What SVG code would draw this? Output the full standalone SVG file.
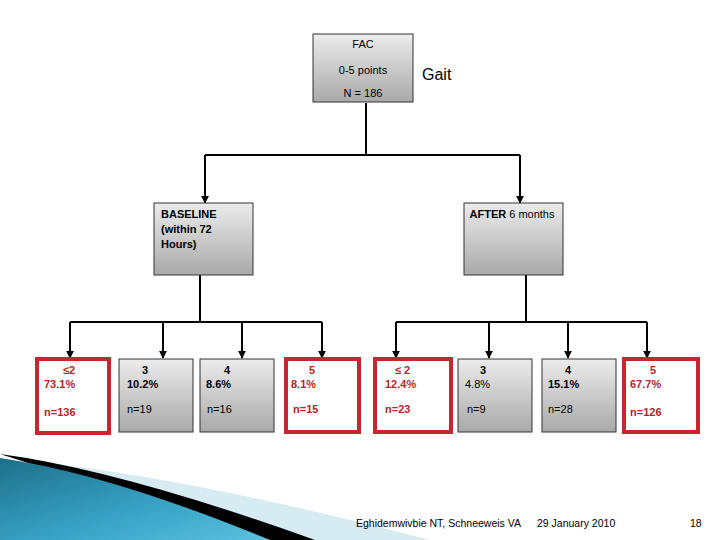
<svg xmlns="http://www.w3.org/2000/svg" width="720" height="540" viewBox="0 0 720 540">
<defs>
<linearGradient id="g" x1="0" y1="0" x2="0" y2="1"><stop offset="0" stop-color="#ececec"/><stop offset="1" stop-color="#a9a9a9"/></linearGradient>
<linearGradient id="t" x1="0" y1="0" x2="1" y2="1"><stop offset="0" stop-color="#1d6f8a"/><stop offset="0.6" stop-color="#3aa5c8"/><stop offset="1" stop-color="#5cc0de"/></linearGradient>
<marker id="a" viewBox="0 0 10 10" refX="9" refY="5" markerWidth="4" markerHeight="4" orient="auto"><path d="M0 0L10 5L0 10z" fill="#000"/></marker>
<style>
.gb{fill:url(#g);stroke:#333;stroke-width:1}
.rb{fill:#fff;stroke:#c8262e;stroke-width:4}
.t{font-family:"Liberation Sans",Arial,sans-serif;font-size:11px;fill:#000}
.r{fill:#b3262b}
.b{font-weight:bold}
.c{fill:none;stroke:#000;stroke-width:2;marker-end:url(#a)}
.l{fill:none;stroke:#000;stroke-width:2}
</style>
</defs>
<rect width="720" height="540" fill="#fff"/>
<g id="swoosh">
<path d="M40 462 Q200 480 430 540 L300 540 Z" fill="#d7ebf2"/>
<path d="M0 454 Q120 470 315 540 L270 540 Z" fill="#000"/>
<path d="M0 458 Q110 474 270 540 L0 540 Z" fill="url(#t)"/>
</g>
<g id="connectors">
<path class="l" d="M366 103V155M205 155H520"/>
<path class="c" d="M205 155V203"/><path class="c" d="M520 155V203"/>
<path class="l" d="M200 275V322M70 322H322"/>
<path class="c" d="M70 322V358"/><path class="c" d="M163 322V358"/><path class="c" d="M242 322V358"/><path class="c" d="M322 322V358"/>
<path class="l" d="M526 275V322M396 322H647"/>
<path class="c" d="M396 322V358"/><path class="c" d="M489 322V358"/><path class="c" d="M568 322V358"/><path class="c" d="M647 322V358"/>
</g>
<g id="fac"><rect class="gb" x="313" y="34" width="100" height="68"/>
<text class="t" x="363" y="48" text-anchor="middle">FAC</text>
<text class="t" x="363" y="74" text-anchor="middle">0-5 points</text>
<text class="t" x="363" y="97" text-anchor="middle">N = 186</text></g>
<text class="t" x="422" y="80" style="font-size:16px">Gait</text>
<g id="baseline"><rect class="gb" x="154" y="203" width="99" height="72"/>
<text class="t b" x="161" y="218">BASELINE</text><text class="t b" x="161" y="233">(within 72</text><text class="t b" x="161" y="248">Hours)</text></g>
<g id="after"><rect class="gb" x="464" y="203" width="99" height="72"/>
<text class="t" x="512" y="218" text-anchor="middle"><tspan class="b">AFTER</tspan> 6 months</text></g>
<g id="b1"><rect class="rb" x="37" y="359" width="72" height="74"/>
<text class="t r b" x="63" y="374">≤2</text><text class="t r b" x="44" y="388">73.1%</text><text class="t r b" x="44" y="416">n=136</text></g>
<g id="b2"><rect class="gb" x="119" y="359" width="74" height="73"/>
<text class="t b" x="142" y="374">3</text><text class="t b" x="127" y="388">10.2%</text><text class="t" x="127" y="413">n=19</text></g>
<g id="b3"><rect class="gb" x="200" y="359" width="74" height="73"/>
<text class="t b" x="224" y="374">4</text><text class="t b" x="206" y="388">8.6%</text><text class="t" x="207" y="413">n=16</text></g>
<g id="b4"><rect class="rb" x="286" y="359" width="73" height="73"/>
<text class="t r b" x="309" y="374">5</text><text class="t r b" x="291" y="388">8.1%</text><text class="t r b" x="293" y="413">n=15</text></g>
<g id="b5"><rect class="rb" x="375" y="359" width="76" height="73"/>
<text class="t r b" x="395" y="374">≤ 2</text><text class="t r b" x="385" y="388">12.4%</text><text class="t r b" x="385" y="413">n=23</text></g>
<g id="b6"><rect class="gb" x="458" y="359" width="74" height="73"/>
<text class="t b" x="480" y="374">3</text><text class="t" x="465" y="388">4.8%</text><text class="t" x="467" y="413">n=9</text></g>
<g id="b7"><rect class="gb" x="542" y="359" width="74" height="73"/>
<text class="t b" x="565" y="374">4</text><text class="t b" x="548" y="388">15.1%</text><text class="t" x="548" y="413">n=28</text></g>
<g id="b8"><rect class="rb" x="624" y="359" width="74" height="73"/>
<text class="t r b" x="650" y="374">5</text><text class="t r b" x="630" y="388">67.7%</text><text class="t r b" x="630" y="416">n=126</text></g>
<g id="footer">
<text class="t" x="356" y="527" style="font-size:10.5px">Eghidemwivbie NT, Schneeweis VA</text>
<text class="t" x="537" y="527" style="font-size:10.5px">29 January 2010</text>
<text class="t" x="690" y="527" style="font-size:10.5px">18</text></g>
</svg>
